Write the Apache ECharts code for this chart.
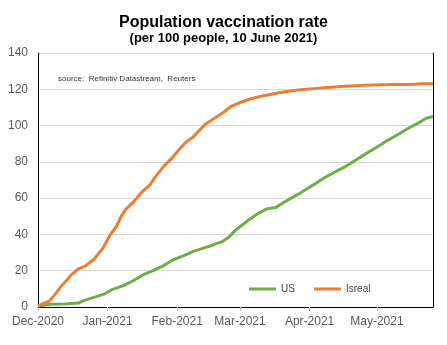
<!DOCTYPE html>
<html>
<head>
<meta charset="utf-8">
<script src="https://cdn.jsdelivr.net/npm/echarts@6/dist/echarts.min.js"></script>
<style>
  html, body { margin: 0; padding: 0; background: #fff; }
  #chart { width: 447px; height: 345px; }
</style>
</head>
<body>
<div id="chart"></div>
<script>
// Doses per 100 people, sampled along each curve
const usDates = ['2020-12-01','2020-12-07','2020-12-13','2020-12-19','2020-12-22','2020-12-27','2020-12-31',
  '2021-01-03','2021-01-08','2021-01-12','2021-01-17','2021-01-21','2021-01-26','2021-01-30',
  '2021-02-04','2021-02-08','2021-02-13','2021-02-17','2021-02-21','2021-02-24','2021-02-27',
  '2021-03-05','2021-03-09','2021-03-13','2021-03-17','2021-03-21','2021-03-26','2021-03-30',
  '2021-04-04','2021-04-08','2021-04-13','2021-04-17','2021-04-22','2021-04-26','2021-04-30',
  '2021-05-06','2021-05-11','2021-05-15','2021-05-20','2021-05-23','2021-05-26'];
const usValues = [0.5,1.5,1.7,2.2,3.8,5.7,7.4,
  9.6,11.8,14.2,17.8,19.9,22.8,25.9,
  28.3,30.5,32.6,34.2,36.0,38.5,42.3,
  48.1,51.5,54.1,54.9,58.0,61.5,64.5,
  68.4,71.5,74.9,77.4,81.3,84.4,87.4,
  92.0,95.5,98.5,101.8,104.0,105.0];

const israelDates = ['2020-12-01','2020-12-06','2020-12-09','2020-12-11','2020-12-13','2020-12-16','2020-12-19',
  '2020-12-22','2020-12-26','2020-12-30','2021-01-02','2021-01-05','2021-01-07','2021-01-09',
  '2021-01-13','2021-01-16','2021-01-20','2021-01-22','2021-01-26','2021-01-30','2021-02-02',
  '2021-02-05','2021-02-08','2021-02-11','2021-02-14','2021-02-19','2021-02-22','2021-02-25',
  '2021-03-01','2021-03-06','2021-03-10','2021-03-15','2021-03-19','2021-03-24','2021-03-28',
  '2021-04-04','2021-04-09','2021-04-15','2021-04-21','2021-04-28','2021-05-04','2021-05-10',
  '2021-05-16','2021-05-21','2021-05-26'];
const israelValues = [0.7,3.2,7.5,11.0,13.6,18.0,21.0,
  22.5,26.3,32.6,39.5,44.5,49.8,53.7,
  58.5,63.0,67.5,71.3,77.5,82.5,87.0,
  91.0,93.5,97.5,101.2,105.2,107.6,110.6,
  112.7,114.8,116.0,117.3,118.2,119.2,119.8,
  120.5,121.0,121.5,122.0,122.3,122.5,122.6,
  122.7,123.0,123.1];

const monthTicks = ['2020-12-01','2021-01-01','2021-02-01','2021-03-01','2021-04-01','2021-05-01'];
const monthLabels = ['Dec-2020','Jan-2021','Feb-2021','Mar-2021','Apr-2021','May-2021'];
const axisStart = '2020-12-01';
const axisEnd = '2021-05-26';

// Dates are placed on a linear day scale
function toTime(s) {
  const p = s.split('-').map(Number);
  return Date.UTC(p[0], p[1] - 1, p[2]);
}
const tickTimes = monthTicks.map(toTime);
const pairs = (dates, vals) => dates.map((d, i) => [toTime(d), vals[i]]);

const chart = echarts.init(document.getElementById('chart'), null, { renderer: 'canvas' });
const font = 'Liberation Sans, Arial, sans-serif';

const legendBase = {
  top: 279,
  icon: 'rect',
  itemWidth: 27,
  itemHeight: 3,
  textStyle: { fontSize: 10, color: '#404040', fontFamily: font }
};

chart.setOption({
  animation: false,
  textStyle: { fontFamily: font },
  title: {
    text: 'Population vaccination rate',
    subtext: '(per 100 people, 10 June 2021)',
    left: 'center',
    top: 10,
    itemGap: 1,
    textStyle: { fontSize: 16, fontWeight: 'bold', color: '#000', fontFamily: font },
    subtextStyle: { fontSize: 13, fontWeight: 'bold', color: '#000', fontFamily: font }
  },
  grid: { left: 38, right: 14, top: 53, bottom: 38, containLabel: false },
  legend: [
    Object.assign({ left: 244, data: ['US'] }, legendBase),
    Object.assign({ left: 309, data: ['Isreal'] }, legendBase)
  ],
  graphic: [{
    type: 'text',
    left: 58,
    top: 75,
    style: { text: 'source:  Refinitiv Datastream,  Reuters', fontSize: 8, fill: '#333', fontFamily: font }
  }],
  xAxis: [{
    type: 'value',
    min: toTime(axisStart),
    max: toTime(axisEnd),
    axisLine: { show: true, lineStyle: { color: '#bfbfbf', width: 1 } },
    axisTick: { show: true, customValues: tickTimes, length: 4, inside: false, lineStyle: { color: '#bfbfbf' } },
    axisLabel: {
      customValues: tickTimes,
      color: '#595959',
      fontSize: 12,
      margin: 9,
      hideOverlap: false,
      showMinLabel: true,
      formatter: function (v) {
        const i = tickTimes.indexOf(v);
        return i >= 0 ? monthLabels[i] : '';
      }
    },
    splitLine: { show: false }
  }, {
    type: 'value',
    position: 'top',
    min: toTime(axisStart),
    max: toTime(axisEnd),
    axisLine: { show: true, lineStyle: { color: '#000', width: 1 } },
    axisTick: { show: false },
    axisLabel: { show: false },
    splitLine: { show: false }
  }],
  yAxis: [{
    type: 'value',
    min: 0,
    max: 140,
    interval: 20,
    axisLine: { show: true, lineStyle: { color: '#000', width: 1 } },
    axisTick: { show: false },
    axisLabel: { color: '#595959', fontSize: 12, margin: 10 },
    splitLine: { show: true, lineStyle: { color: '#d9d9d9', width: 1 } }
  }, {
    type: 'value',
    position: 'right',
    min: 0,
    max: 140,
    interval: 20,
    axisLine: { show: true, lineStyle: { color: '#000', width: 1 } },
    axisTick: { show: false },
    axisLabel: { show: false },
    splitLine: { show: false }
  }],
  series: [{
    name: 'US',
    type: 'line',
    data: pairs(usDates, usValues),
    symbol: 'none',
    lineStyle: { color: '#70ad47', width: 3 },
    itemStyle: { color: '#70ad47' }
  }, {
    name: 'Isreal',
    type: 'line',
    data: pairs(israelDates, israelValues),
    symbol: 'none',
    lineStyle: { color: '#ed7d31', width: 3 },
    itemStyle: { color: '#ed7d31' }
  }]
});
</script>
</body>
</html>
